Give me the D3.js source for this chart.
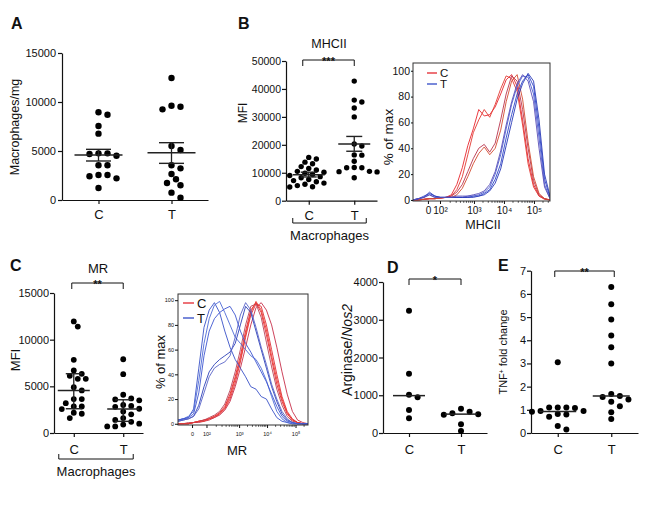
<!DOCTYPE html>
<html><head><meta charset="utf-8">
<script src="https://cdn.jsdelivr.net/npm/d3@7"></script>
<style>
body{margin:0;background:#fff}
svg{display:block}
text{font-family:"Liberation Sans",Arial,sans-serif;fill:#111}
</style>
</head><body>
<svg id="c" width="650" height="511"></svg>
<script>
// ---------------- DATA ----------------
const groups = ["C", "T"];

// Panel A: Macrophages/mg
const aTicks = [0, 5000, 10000, 15000];
const aC = [8950, 8700, 7550, 6770, 4760, 4690, 4520, 4760, 3540, 3540, 2550, 2420, 2210, 2550, 1220];
const aT = [12450, 9620, 9250, 9520, 5510, 5100, 3540, 3230, 2650, 2110, 1730, 1500, 750, 240];
const aCenter = [4590, 4830], aLow = [3980, 3740], aHigh = [5170, 5850];

// Panel B: MHCII MFI
const bTicks = [0, 10000, 20000, 30000, 40000, 50000];
const bC = [15500, 14900, 13800, 13200, 12200, 11500, 11000, 10500, 10200, 9800, 9400, 9000, 8600, 8200, 7600, 7200, 6800, 6300, 5900, 5400, 5000, 4900];
const bT = [42800, 36000, 35300, 33200, 30000, 20300, 19600, 16400, 16300, 14100, 11800, 11800, 11900, 10500, 10300, 10400, 8200];
const bCenter = [9300, 20300], bLow = [8500, 17700], bHigh = [10200, 23000];

// Panel C: MR MFI
const cTicks = [0, 5000, 10000, 15000];
const cC = [11950, 11400, 7840, 6700, 6340, 6130, 5800, 5800, 4900, 4560, 3630, 3630, 3200, 2840, 2840, 2560, 2170, 2060, 1600];
const cT = [7900, 6300, 4100, 3700, 3600, 3500, 3000, 2900, 2800, 2600, 2300, 2000, 1600, 1400, 1200, 1000, 900, 700, 700];
const cCenter = [4560, 2560], cLow = [2600, 1250], cHigh = [6350, 3560];

// Panel D: Arginase/Nos2
const dTicks = [0, 1000, 2000, 3000, 4000];
const dC = [3240, 1570, 1010, 950, 610, 390];
const dT = [500, 560, 485, 640, 520, 230, 50];
const dMedian = [990, 500];

// Panel E: TNF+ fold change
const eTicks = [0, 1, 2, 3, 4, 5, 6, 7];
const eC = [3.05, 1.1, 1.1, 1.08, 1.1, 0.95, 0.92, 0.95, 0.8, 0.82, 0.7, 0.3, 0.15];
const eT = [6.3, 5.55, 4.9, 4.2, 3.7, 3.0, 1.68, 1.6, 1.55, 1.45, 1.35, 1.15, 0.9, 0.6];
const eMedian = [0.93, 1.6];

// Histograms (display channel 0..1000, % of max)
const channels = [0, 40, 80, 120, 160, 200, 240, 280, 320, 360, 400, 440, 480, 520, 560, 600, 640, 680, 720, 760, 800, 840, 880, 920, 960, 1000];
const histTickLabels = ["0", "10²", "10³", "10⁴", "10⁵"];
const histYTicks = [0, 20, 40, 60, 80, 100];
const mhcTickCh = [109, 197, 445, 664, 883];
const mrTickCh = [108, 219, 470, 685, 904];

const mhcC1 = [0, 0, 0.5, 1, 1, 1.5, 2, 4, 12, 25, 42, 55, 70, 65, 66, 72, 82, 93, 97, 88, 62, 32, 12, 3, 1, 0];
const mhcC2 = [0, 0, 0.5, 1, 1, 1.5, 2, 3, 8, 18, 35, 52, 62, 70, 64, 74, 86, 96, 94, 84, 58, 28, 10, 3, 0.5, 0];
const mhcC3 = [0, 0, 0.5, 1, 1, 1.5, 2, 3, 6, 12, 22, 32, 40, 43, 37, 44, 62, 82, 96, 92, 70, 40, 15, 4, 1, 0];
const mhcC4 = [0, 0, 0.5, 1, 1, 1.5, 2, 2, 4, 9, 18, 28, 36, 41, 35, 40, 54, 76, 92, 97, 78, 45, 18, 5, 1, 0];
const mhcT1 = [0, 1, 3, 5, 3, 2, 2, 2, 2, 2, 2, 3, 3, 5, 8, 16, 28, 48, 66, 82, 92, 97, 88, 55, 16, 2];
const mhcT2 = [0, 1, 2, 4, 2, 2, 2, 2, 2, 2, 3, 3, 4, 6, 10, 20, 35, 55, 74, 88, 96, 95, 82, 48, 12, 1];
const mhcT3 = [0, 1, 2, 6, 3, 2, 2, 2, 2, 2, 2, 2, 3, 4, 7, 13, 24, 42, 60, 78, 90, 98, 92, 62, 20, 3];
const mhcT4 = [0, 1, 2, 4, 2, 2, 2, 2, 3, 3, 3, 4, 5, 7, 12, 22, 38, 58, 76, 90, 97, 92, 76, 40, 10, 1];

const mrC1 = [0, 0, 0, 1, 2, 3, 4, 6, 9, 14, 24, 38, 55, 75, 92, 98, 90, 72, 52, 32, 18, 8, 3, 1, 0, 0];
const mrC2 = [0, 0, 0, 1, 2, 3, 4, 5, 8, 12, 20, 33, 50, 70, 88, 97, 95, 80, 60, 40, 22, 10, 4, 1, 0, 0];
const mrC3 = [0, 0, 0, 1, 1, 2, 3, 5, 7, 11, 18, 30, 45, 62, 80, 94, 98, 92, 80, 62, 42, 24, 10, 3, 1, 0];
const mrC4 = [0, 0, 1, 1, 2, 3, 5, 7, 10, 16, 27, 42, 60, 80, 95, 97, 86, 66, 46, 28, 15, 6, 2, 1, 0, 0];
const mrC5 = [0, 0, 0, 1, 2, 2, 4, 6, 8, 13, 22, 36, 52, 72, 90, 99, 92, 76, 55, 36, 20, 9, 3, 1, 0, 0];
const mrT1 = [3, 4, 5, 12, 45, 78, 92, 98, 90, 75, 62, 52, 45, 38, 30, 28, 22, 20, 12, 5, 2, 1, 0, 0, 0, 0];
const mrT2 = [3, 4, 6, 10, 35, 65, 85, 96, 99, 90, 80, 70, 65, 60, 55, 52, 45, 35, 22, 10, 4, 1, 0, 0, 0, 0];
const mrT3 = [2, 3, 4, 6, 15, 30, 42, 48, 52, 55, 58, 65, 80, 95, 90, 75, 60, 45, 30, 18, 8, 3, 1, 0, 0, 0];
const mrT4 = [2, 3, 4, 6, 12, 25, 38, 45, 48, 50, 55, 70, 88, 98, 92, 78, 62, 48, 32, 20, 10, 4, 1, 0, 0, 0];
const mrT5 = [3, 4, 5, 8, 25, 55, 75, 85, 90, 93, 95, 88, 75, 65, 58, 50, 42, 34, 24, 14, 6, 2, 1, 0, 0, 0];

// ---------------- STYLE ----------------
const RED = "#e3262d", BLUE = "#3149c6";
const mhcRedShades = ["#e8262e", "#e23a33", "#b8344e", "#d44a30"];
const mhcBlueShades = ["#3046c8", "#4a5cd0", "#2838b8", "#5a4fb8"];
const mrRedShades = ["#e8242c", "#e03038", "#c8304a", "#b84458", "#ea3a30"];
const mrBlueShades = ["#3a52c8", "#4e6ad6", "#2c40b8", "#5a64c8", "#3f57d0"];

const svg = d3.select("#c");

function swarm(vals, y, r, step) {
  const order = vals.map((v, i) => ({ i, y: y(v) })).sort((a, b) => a.y - b.y);
  const placed = [], out = new Array(vals.length), minD = 2 * r + 0.4;
  for (const p of order) {
    for (let k = 0; k < 60; k++) {
      const m = k === 0 ? 0 : (k % 2 ? Math.ceil(k / 2) : -k / 2);
      const dx = m * step;
      if (placed.every(q => (q.x - dx) ** 2 + (q.y - p.y) ** 2 >= minD * minD)) {
        placed.push({ x: dx, y: p.y }); out[p.i] = dx; break;
      }
    }
  }
  return out;
}

function styleAxis(a, fs) {
  a.attr("font-family", null).attr("font-size", null).attr("color", "#111");
  a.selectAll("text").style("font-size", fs + "px");
  a.selectAll(".domain, .tick line").attr("stroke-width", 1.2);
}

function scatter(cfg) {
  const g = svg.append("g");
  const x = d3.scalePoint().domain(groups).range([cfg.x0, cfg.x1]).padding(cfg.pad);
  const y = d3.scaleLinear().domain(cfg.domain).range([cfg.yBot, cfg.yTop]);
  const ya = g.append("g").attr("transform", `translate(${cfg.x0},0)`)
    .call(d3.axisLeft(y).tickValues(cfg.ticks).tickSize(4).tickSizeOuter(0).tickPadding(cfg.yPad).tickFormat(d3.format("d")));
  styleAxis(ya, cfg.tickFont);
  const xa = g.append("g").attr("transform", `translate(0,${cfg.yBot})`)
    .call(d3.axisBottom(x).tickSize(4).tickSizeOuter(0).tickPadding(cfg.catPad));
  styleAxis(xa, cfg.catFont);
  cfg.values.forEach((vals, gi) => {
    const offs = swarm(vals, y, cfg.r, cfg.step);
    g.append("g").selectAll("circle").data(vals).join("circle")
      .attr("cx", (d, i) => x(groups[gi]) + offs[i]).attr("cy", d => y(d))
      .attr("r", cfg.r).attr("fill", "#000");
  });
  groups.forEach((gr, gi) => {
    const cx = x(gr);
    const lc = "#222";
    g.append("line").attr("x1", cx - cfg.meanHalf).attr("x2", cx + cfg.meanHalf)
      .attr("y1", y(cfg.center[gi])).attr("y2", y(cfg.center[gi])).attr("stroke", lc).attr("stroke-width", 1.5);
    if (cfg.low) {
      g.append("line").attr("x1", cx).attr("x2", cx).attr("y1", y(cfg.low[gi])).attr("y2", y(cfg.high[gi]))
        .attr("stroke", lc).attr("stroke-width", 1.3);
      [cfg.low[gi], cfg.high[gi]].forEach(v => g.append("line")
        .attr("x1", cx - cfg.capHalf).attr("x2", cx + cfg.capHalf).attr("y1", y(v)).attr("y2", y(v))
        .attr("stroke", lc).attr("stroke-width", 1.4));
    }
  });
  return { x, y, g };
}

function bracket(x1, x2, yb, drop, label, fs) {
  svg.append("path").attr("d", `M${x1},${yb + drop}V${yb}H${x2}V${yb + drop}`)
    .attr("fill", "none").attr("stroke", "#111").attr("stroke-width", 1);
  svg.append("text").attr("x", (x1 + x2) / 2).attr("y", yb + fs * 0.42).attr("text-anchor", "middle")
    .style("font-size", fs + "px").style("font-weight", "bold").text(label);
}
function groupBracket(x1, x2, yb, rise, label, ty) {
  svg.append("path").attr("d", `M${x1},${yb - rise}V${yb}H${x2}V${yb - rise}`)
    .attr("fill", "none").attr("stroke", "#111").attr("stroke-width", 1);
  svg.append("text").attr("x", (x1 + x2) / 2).attr("y", ty).attr("text-anchor", "middle")
    .style("font-size", "13px").text(label);
}
function vlabel(x, y, fs, parts) {
  const t = svg.append("text").attr("transform", `translate(${x},${y}) rotate(-90)`)
    .attr("text-anchor", "middle").attr("dy", "0.35em").style("font-size", fs + "px");
  parts.forEach(p => {
    const s = t.append("tspan").text(p.t);
    if (p.i) s.style("font-style", "italic");
    if (p.sup) s.attr("baseline-shift", "super").style("font-size", (fs * 0.6) + "px");
  });
  return t;
}
function label(x, y, fs, txt, anchor = "middle", bold = false) {
  return svg.append("text").attr("x", x).attr("y", y).attr("text-anchor", anchor)
    .style("font-size", fs + "px").style("font-weight", bold ? "bold" : "normal").text(txt);
}

function hist(cfg) {
  const g = svg.append("g");
  const x = d3.scaleLinear().domain([0, 1000]).range([cfg.x0, cfg.x1]);
  const y = d3.scaleLinear().domain(cfg.yDomain).range([cfg.yBot, cfg.yTop]);
  const id = "clip" + cfg.x0;
  svg.append("clipPath").attr("id", id).append("rect")
    .attr("x", cfg.x0).attr("y", cfg.yTop).attr("width", cfg.x1 - cfg.x0).attr("height", cfg.yBot - cfg.yTop);
  const line = d3.line().x((d, i) => x(channels[i])).y(d => y(d));
  g.append("g").attr("clip-path", `url(#${id})`).selectAll("path").data(cfg.curves).join("path")
    .attr("d", d => line(d.v)).attr("fill", "none").attr("stroke", d => d.c).attr("stroke-width", 1).attr("stroke-opacity", 0.9);
  g.append("rect").attr("x", cfg.x0).attr("y", cfg.yTop).attr("width", cfg.x1 - cfg.x0).attr("height", cfg.yBot - cfg.yTop)
    .attr("fill", "none").attr("stroke", "#333").attr("stroke-width", 1);
  const ya = g.append("g").attr("transform", `translate(${cfg.x0},0)`)
    .call(d3.axisLeft(y).tickValues(histYTicks).tickSize(cfg.yTick).tickPadding(cfg.yPad));
  ya.select(".domain").remove();
  styleAxis(ya, cfg.yFont);
  ya.selectAll(".tick line").attr("stroke-width", 1);
  const xa = g.append("g").attr("transform", `translate(0,${cfg.yBot})`)
    .call(d3.axisBottom(x).tickValues(cfg.tickCh).tickFormat((d, i) => histTickLabels[i]).tickSize(cfg.xTick).tickPadding(cfg.xPad));
  xa.select(".domain").remove();
  styleAxis(xa, cfg.xFont);
  xa.selectAll(".tick line").attr("stroke-width", 1);
  // minor log ticks
  const minors = [];
  for (let k = 1; k < cfg.tickCh.length; k++) {
    const a = cfg.tickCh[k], w = k < cfg.tickCh.length - 1 ? cfg.tickCh[k + 1] - a : cfg.tickCh[k] - cfg.tickCh[k - 1];
    for (let m = 2; m <= 9; m++) { const c = a + Math.log10(m) * w; if (c < 1000) minors.push(c); }
  }
  g.append("g").selectAll("line").data(minors).join("line")
    .attr("x1", d => x(d)).attr("x2", d => x(d)).attr("y1", cfg.yBot).attr("y2", cfg.yBot + cfg.xTick * 0.6)
    .attr("stroke", "#222").attr("stroke-width", 0.8);
  // legend
  [["C", RED], ["T", BLUE]].forEach(([t, c], i) => {
    const ly = cfg.legY + i * cfg.legGap;
    g.append("line").attr("x1", cfg.legX).attr("x2", cfg.legX + cfg.legLen).attr("y1", ly).attr("y2", ly)
      .attr("stroke", c).attr("stroke-width", 1.3);
    g.append("text").attr("x", cfg.legX + cfg.legLen + 3).attr("y", ly + cfg.legFont * 0.36)
      .style("font-size", cfg.legFont + "px").text(t);
  });
}

// ---------------- PANEL A ----------------
label(11, 29, 16, "A", "start", true);
scatter({ x0: 62, x1: 208, pad: 0.5, yTop: 53, yBot: 200, domain: [0, 15000], ticks: aTicks,
  yPad: 2, tickFont: 11, catFont: 13, catPad: 6, values: [aC, aT], r: 3.2, step: 4.5,
  center: aCenter, low: aLow, high: aHigh, meanHalf: 24, capHalf: 12.5 });
vlabel(15, 127, 12.5, [{ t: "Macrophages/mg" }]);

// ---------------- PANEL B ----------------
label(238, 29, 16, "B", "start", true);
const B = scatter({ x0: 286, x1: 377, pad: 0.5, yTop: 61, yBot: 200.7, domain: [0, 50000], ticks: bTicks,
  yPad: 1, tickFont: 10.5, catFont: 13, catPad: 6, values: [bC, bT], r: 2.7, step: 3.8,
  center: bCenter, low: bLow, high: bHigh, meanHalf: 16, capHalf: 8 });
vlabel(243, 113, 12, [{ t: "MFI" }]);
label(329, 47.5, 12.5, "MHCII");
bracket(B.x("C") - 6, B.x("T"), 60, 6, "***", 11);
groupBracket(B.x("C") - 16, B.x("T") + 12, 223, 5, "Macrophages", 239.5);

hist({ x0: 413, x1: 550, yTop: 63, yBot: 201, yDomain: [-0.8, 106], tickCh: mhcTickCh,
  yTick: 2, yPad: 1, yFont: 10.5, xTick: 3, xPad: 3, xFont: 10,
  legX: 427, legY: 73, legGap: 11, legLen: 10, legFont: 11.5,
  curves: [mhcC1, mhcC2, mhcC3, mhcC4].map((v, i) => ({ v, c: mhcRedShades[i] }))
    .concat([mhcT1, mhcT2, mhcT3, mhcT4].map((v, i) => ({ v, c: mhcBlueShades[i] }))) });
vlabel(388, 137, 13.5, [{ t: "% of max" }]);
label(483, 228.5, 12.5, "MHCII");

// ---------------- PANEL C ----------------
label(10, 271, 16, "C", "start", true);
const C = scatter({ x0: 54, x1: 143, pad: 0.4, yTop: 293, yBot: 433, domain: [0, 15000], ticks: cTicks,
  yPad: 1, tickFont: 11, catFont: 13, catPad: 8, values: [cC, cT], r: 2.9, step: 4,
  center: cCenter, low: cLow, high: cHigh, meanHalf: 16, capHalf: 8 });
vlabel(15, 360, 13, [{ t: "MFI" }]);
label(98, 272.5, 13, "MR");
bracket(C.x("C") - 2, C.x("T"), 283, 6, "**", 11);
groupBracket(C.x("C") - 15, C.x("T") + 10, 459, 5, "Macrophages", 475.5);

hist({ x0: 178, x1: 308, yTop: 294, yBot: 425, yDomain: [-1, 105], tickCh: mrTickCh,
  yTick: 3, yPad: 1, yFont: 5.5, xTick: 3, xPad: 4, xFont: 5.5,
  legX: 183, legY: 303, legGap: 15, legLen: 11, legFont: 13,
  curves: [mrC1, mrC2, mrC3, mrC4, mrC5].map((v, i) => ({ v, c: mrRedShades[i] }))
    .concat([mrT1, mrT2, mrT3, mrT4, mrT5].map((v, i) => ({ v, c: mrBlueShades[i] }))) });
vlabel(160, 362, 13, [{ t: "% of max" }]);
label(237, 455, 13, "MR");

// ---------------- PANEL D ----------------
label(387, 273, 16, "D", "start", true);
const D = scatter({ x0: 383, x1: 487, pad: 0.5, yTop: 282, yBot: 433, domain: [0, 4000], ticks: dTicks,
  yPad: 1, tickFont: 11, catFont: 13, catPad: 8, values: [dC, dT], r: 3, step: 4.3,
  center: dMedian, meanHalf: 16 });
vlabel(347, 350, 14, [{ t: "Arginase/" }, { t: "Nos2", i: true }]);
bracket(D.x("C"), D.x("T"), 279, 6, "*", 11);

// ---------------- PANEL E ----------------
label(498, 271, 16, "E", "start", true);
const E = scatter({ x0: 531, x1: 638, pad: 0.5, yTop: 270.7, yBot: 433, domain: [0, 7], ticks: eTicks,
  yPad: 1, tickFont: 11, catFont: 13, catPad: 8, values: [eC, eT], r: 3, step: 4.3,
  center: eMedian, meanHalf: 18.5 });
vlabel(503, 352, 11, [{ t: "TNF" }, { t: "+", sup: true }, { t: " fold change" }]);
bracket(E.x("C") - 3, E.x("T") + 3, 271, 6, "**", 11);
</script>
</body></html>
